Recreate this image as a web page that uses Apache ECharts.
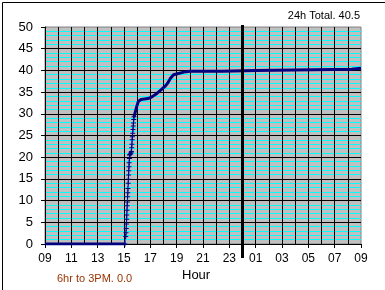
<!DOCTYPE html>
<html>
<head>
<meta charset="utf-8">
<script src="https://cdn.jsdelivr.net/npm/echarts@6/dist/echarts.min.js"></script>
<style>html,body{margin:0;padding:0;background:#fff;}#c{width:385px;height:290px;}</style>
</head>
<body>
<div id="c"></div>
<script>
// x values: hours elapsed since 09:00
const hourTickLabels = ['09','11','13','15','17','19','21','23','01','03','05','07','09'];
const midnight = [15];
// dry period before rain
const rainStart = [[0,0],[6.075,0]];
// first fast burst (one point per minute)
const rainBurst1 = [[6.13,1.7],[6.15,2.6],[6.17,3.6],[6.18,4.6],[6.20,5.7],[6.21,6.7],[6.23,7.8],[6.24,8.8],[6.26,9.7],[6.27,10.9],[6.29,11.8],[6.30,12.8],[6.32,14.0],[6.33,14.9],[6.35,15.9],[6.36,16.9],[6.38,17.8],[6.39,18.7],[6.41,19.7]];
// short slow-down
const rainPause = [[6.42,20.5],[6.46,20.6],[6.50,20.8],[6.54,21.0]];
// second fast burst
const rainBurst2 = [[6.56,21.3],[6.58,22.2],[6.60,23.0],[6.62,24.0],[6.64,24.7],[6.66,25.5],[6.68,26.4],[6.70,27.2],[6.72,27.9],[6.74,28.7]];
// slow accumulation afterwards
const rainTail = [[6.76,29.3],[6.96,31.6],[7.08,32.8],[7.29,33.3],[7.82,33.5],[8.12,33.9],[8.50,34.7],[8.81,35.5],[9.11,36.3],[9.30,37.0],[9.53,38.2],[9.76,39.0],[10.14,39.3],[10.55,39.6],[11.01,39.8],[13.42,39.8],[13.43,40.0],[16.0,40.0],[16.01,40.25],[23.29,40.25],[23.30,40.5],[24,40.5]];

const steep = [rainStart[rainStart.length-1]].concat(rainBurst1, rainPause, rainBurst2, [rainTail[0]]);

const chart = echarts.init(document.getElementById('c'), null, {renderer:'canvas'});
const thick = (d) => ({type:'line', data:d, symbol:'none', lineStyle:{color:'#000080', width:3}, z:3, animation:false});
chart.setOption({
  animation:false,
  backgroundColor:'#ffffff',
  grid:{left:45, right:24, top:27, bottom:46, show:true, backgroundColor:'#C0C0C0', borderColor:'#808080', borderWidth:1},
  xAxis:{
    type:'value', min:0, max:24, interval:2, z:1,
    axisLine:{show:true, onZero:false, lineStyle:{color:'#000', width:1}},
    axisTick:{show:true, length:4, lineStyle:{color:'#000'}},
    axisLabel:{margin:9, fontSize:12, fontFamily:'Liberation Sans', color:'#000', formatter:(v)=>hourTickLabels[Math.round(v/2)]},
    splitLine:{show:true, showMinLine:false, showMaxLine:false, lineStyle:{color:'#000', width:1}},
    minorTick:{show:false, splitNumber:2},
    minorSplitLine:{show:true, lineStyle:{color:'#000', width:1}}
  },
  yAxis:{
    type:'value', min:0, max:50, interval:5, z:0,
    axisLine:{show:true, lineStyle:{color:'#000', width:1}},
    axisTick:{show:true, length:4, lineStyle:{color:'#000'}},
    axisLabel:{margin:12, fontSize:13, fontFamily:'Liberation Sans', color:'#000'},
    splitLine:{show:true, showMinLine:false, showMaxLine:false, lineStyle:{color:'#000', width:1}},
    minorTick:{show:false, splitNumber:5},
    minorSplitLine:{show:true, lineStyle:{color:'#00FFFF', width:1}}
  },
  series:[
    thick(rainStart), thick(rainPause), thick(rainTail),
    {type:'line', data:steep, symbol:'path://M4,0H6V4H10V6H6V10H4V6H0V4H4Z', symbolSize:5, showAllSymbol:true,
     itemStyle:{color:'#000080'}, lineStyle:{color:'#2050FF', width:1}, z:4},
    {type:'custom', data:midnight.map(v=>[v]), clip:false, z:5,
     renderItem:(params, api)=>{
       const top = api.coord([api.value(0), 50]);
       const bot = api.coord([api.value(0), 0]);
       return {type:'line', shape:{x1:top[0], y1:top[1]-2, x2:bot[0], y2:bot[1]+14}, style:{stroke:'#000', lineWidth:3}};
     }}
  ],
  graphic:[
    {type:'rect', left:0, top:0, shape:{x:0.5, y:0.5, width:384, height:289}, style:{fill:null, stroke:'#000', lineWidth:1}, silent:true},
    {type:'text', right:25, top:10, style:{text:'24h Total. 40.5', font:'11px "Liberation Sans"', fill:'#000'}},
    {type:'text', left:182, top:269, style:{text:'Hour', font:'13px "Liberation Sans"', fill:'#000'}},
    {type:'text', left:57, top:273, style:{text:'6hr to 3PM. 0.0', font:'11px "Liberation Sans"', fill:'#993300'}}
  ]
});
</script>
</body>
</html>
